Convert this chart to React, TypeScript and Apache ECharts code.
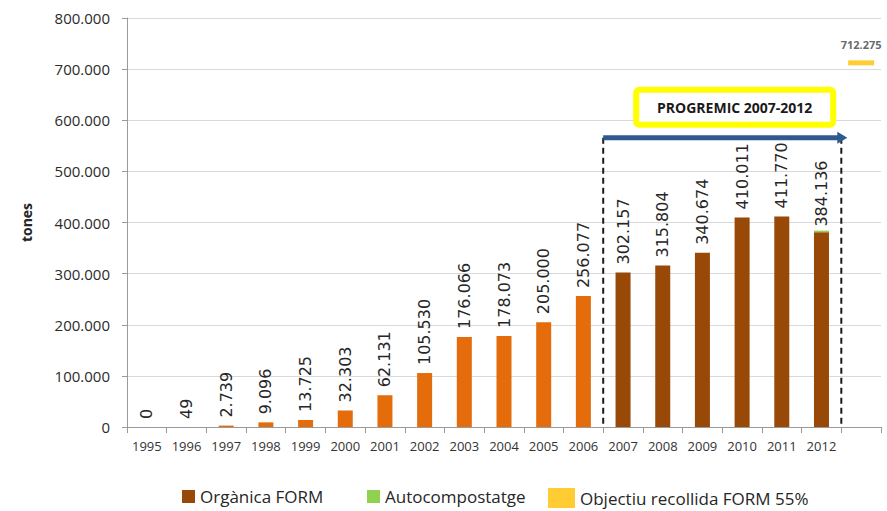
import React, { useEffect, useRef } from 'react';
import * as echarts from 'echarts';

// Years on the category axis; the last, unlabelled slot holds the 55% target marker.
const years = [
  '1995', '1996', '1997', '1998', '1999', '2000', '2001', '2002', '2003',
  '2004', '2005', '2006', '2007', '2008', '2009', '2010', '2011', '2012', '',
];

// Organic fraction (FORM) collected, tonnes
const organica = [
  0, 49, 2739, 9096, 13725, 32303, 62131, 105530, 176066,
  178073, 205000, 256077, 302157, 315804, 340674, 410011, 411770, 381136, null,
];

// Home composting, tonnes (only reported for 2012)
const autocompostatge = [
  null, null, null, null, null, null, null, null, null,
  null, null, null, null, null, null, null, null, 3000, null,
];

// Collection target (55% of FORM)
const objectiuIndex = 18;
const objectiuValue = 712275;

// Span of the PROGREMIC plan on the category axis
const progremicStart = 12;
const progremicEnd = 17;
const progremicLabel = 'PROGREMIC 2007-2012';

const yMax = 800000;
const yStep = 100000;

const ORANGE = '#E46C0A';
const BROWN = '#984807';
const GREEN = '#92D050';
const GOLD = '#FFC000';

const fmt = (v: number) => String(Math.round(v)).replace(/\B(?=(\d{3})+(?!\d))/g, '.');

export default function App() {
  const ref = useRef<HTMLDivElement>(null);

  useEffect(() => {
    if (!ref.current) return;
    const chart = echarts.init(ref.current, null, { renderer: 'svg' });

    const valueLabel = {
      show: true,
      position: 'top',
      rotate: 90,
      align: 'left',
      verticalAlign: 'middle',
      distance: 8,
      fontFamily: 'DejaVu Sans',
      fontSize: 16,
      color: '#262626',
    };

    const orgData = organica.map((v, i) => {
      if (v === null) return null;
      const item: any = { value: v };
      if (i < progremicStart) item.itemStyle = { color: ORANGE };
      if (autocompostatge[i] !== null) item.label = { show: false };
      return item;
    });

    const legendText = { fontSize: 17, color: '#262626', fontFamily: 'Open Sans' };

    chart.setOption({
      animation: false,
      textStyle: { fontFamily: 'Open Sans' },
      grid: { left: 127, right: 6, top: 18, bottom: 84 },
      legend: [
        {
          left: 177, top: 483, icon: 'rect', itemWidth: 13, itemHeight: 13,
          data: ['Orgànica FORM'], textStyle: legendText,
        },
        {
          left: 362, top: 483, icon: 'rect', itemWidth: 13, itemHeight: 13,
          data: ['Autocompostatge'], textStyle: legendText,
        },
        {
          left: 543, top: 483, icon: 'rect', itemWidth: 27, itemHeight: 20,
          data: ['Objectiu recollida FORM 55%'], textStyle: legendText,
        },
      ],
      xAxis: {
        type: 'category',
        data: years,
        boundaryGap: true,
        axisLine: { lineStyle: { color: '#9a9a9a' } },
        axisTick: { show: true, length: 6, lineStyle: { color: '#9a9a9a' } },
        axisLabel: { color: '#333', fontSize: 13, margin: 12, interval: 0 },
      },
      yAxis: {
        type: 'value',
        min: 0,
        max: yMax,
        interval: yStep,
        name: 'tones',
        nameLocation: 'middle',
        nameGap: 94,
        nameTextStyle: { fontSize: 14, fontWeight: 'bold', color: '#262626' },
        axisLine: { show: true, lineStyle: { color: '#9a9a9a' } },
        axisTick: { show: true, length: 5, lineStyle: { color: '#9a9a9a' } },
        axisLabel: { color: '#2b2b2b', fontSize: 15, margin: 17, formatter: (v: number) => fmt(v) },
        splitLine: { lineStyle: { color: '#d9d9d9' } },
      },
      series: [
        {
          name: 'Orgànica FORM',
          type: 'bar',
          stack: 'total',
          barWidth: 15,
          itemStyle: { color: BROWN },
          label: { ...valueLabel, formatter: (p: any) => fmt(p.value) },
          data: orgData,
        },
        {
          name: 'Autocompostatge',
          type: 'bar',
          stack: 'total',
          barWidth: 15,
          itemStyle: { color: GREEN },
          label: {
            ...valueLabel,
            distance: 4,
            formatter: (p: any) => fmt((organica[p.dataIndex] || 0) + p.value),
          },
          data: autocompostatge,
        },
        {
          name: 'Objectiu recollida FORM 55%',
          type: 'scatter',
          symbol: 'rect',
          symbolSize: [26, 5],
          itemStyle: { color: GOLD },
          label: {
            show: true,
            position: 'top',
            distance: 10,
            fontSize: 11,
            fontWeight: 'bold',
            color: '#404040',
            formatter: (p: any) => fmt(p.value[1]),
          },
          data: [[objectiuIndex, objectiuValue]],
        },
      ],
    });

    // PROGREMIC annotation: dashed bounds, arrow and framed title
    const px = (i: number) => chart.convertToPixel({ xAxisIndex: 0 }, i) as number;
    const half = (px(1) - px(0)) / 2;
    const xStart = px(progremicStart) - half;
    const xEnd = px(progremicEnd) + half;
    const yBase = chart.convertToPixel({ yAxisIndex: 0 }, 0) as number;
    const yArrow = chart.convertToPixel({ yAxisIndex: 0 }, 566000) as number;

    chart.setOption({
      graphic: [
        {
          type: 'line',
          shape: { x1: xStart, y1: yArrow, x2: xStart, y2: yBase },
          style: { stroke: '#1a1a1a', lineWidth: 2, lineDash: [6, 4] },
          z: 10,
        },
        {
          type: 'line',
          shape: { x1: xEnd, y1: yArrow, x2: xEnd, y2: yBase },
          style: { stroke: '#1a1a1a', lineWidth: 2, lineDash: [6, 4] },
          z: 10,
        },
        {
          type: 'line',
          shape: { x1: xStart, y1: yArrow, x2: xEnd - 2, y2: yArrow },
          style: { stroke: '#2F5A8E', lineWidth: 5 },
          z: 11,
        },
        {
          type: 'polygon',
          shape: { points: [[xEnd - 4, yArrow - 6], [xEnd + 6, yArrow], [xEnd - 4, yArrow + 6]] },
          style: { fill: '#2F5A8E' },
          z: 11,
        },
        {
          type: 'rect',
          shape: { x: xStart + 33, y: yArrow - 48, width: 197, height: 35, r: 3 },
          style: { fill: '#ffffff', stroke: '#FFFF00', lineWidth: 6 },
          z: 11,
        },
        {
          type: 'text',
          x: xStart + 33 + 197 / 2,
          y: yArrow - 48 + 35 / 2,
          style: {
            text: progremicLabel,
            fontFamily: 'Open Sans',
            fontSize: 14,
            fontWeight: 'bold',
            fill: '#1a1a1a',
            align: 'center',
            verticalAlign: 'middle',
          },
          z: 12,
        },
      ],
    });

    return () => chart.dispose();
  }, []);

  return (
    <div
      ref={ref}
      style={{ position: 'fixed', left: 0, top: 0, width: 887, height: 511, background: '#fff' }}
    />
  );
}
